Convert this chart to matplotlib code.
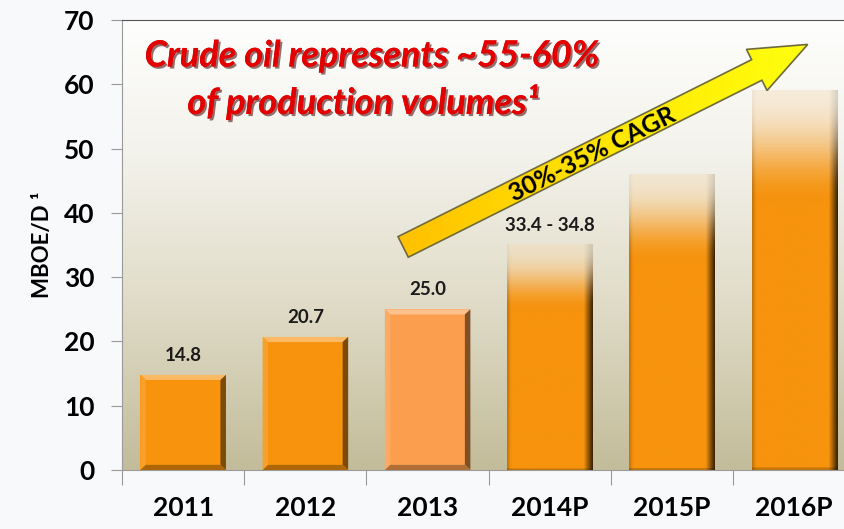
import matplotlib.pyplot as plt
import matplotlib.patheffects as pe
import numpy as np
from matplotlib.colors import LinearSegmentedColormap, to_rgb
from matplotlib.patches import Polygon

years = ["2011", "2012", "2013", "2014P", "2015P", "2016P"]
volumes = [14.8, 20.7, 25.0, 35.0, 46.0, 59.0]
projected = [False, False, False, True, True, True]
value_labels = ["14.8", "20.7", "25.0", "33.4 - 34.8", "", ""]
bar_colors = ["#f7930d", "#f7930d", "#fb9f4e", "#f7930d", "#f7930d", "#f7930d"]
y_ticks = [0, 10, 20, 30, 40, 50, 60, 70]
cagr_label = "30%-35% CAGR"
cagr_from = (1.8, 34.7)   # arrow tail (category index, MBOE/D)
cagr_to = (5.11, 66.2)    # arrow tip
headline = ["Crude oil represents ~55-60%", "of production volumes¹"]

plt.rcParams["font.family"] = ["Lato", "DejaVu Sans"]
plt.rcParams["font.weight"] = "bold"
plt.rcParams["axes.labelweight"] = "bold"

fig = plt.figure(figsize=(8.44, 5.29), dpi=100, facecolor="#f8f9fb")
ax = fig.add_axes([0.1446, 0.1115, 0.8689, 0.8507])
x = np.arange(len(years))
xlim = (-0.5, len(years) - 0.5)
ylim = (0, 70)
ax.set_xlim(*xlim)
ax.set_ylim(*ylim)


def shade(c, f):
    # f > 0 mixes with white, f < 0 with black
    c = np.array(to_rgb(c))
    return tuple(c + (1 - c) * f) if f > 0 else tuple(c * (1 + f))


# plot area background: khaki at the bottom fading to white at the top
bg = LinearSegmentedColormap.from_list(
    "bg", [(0, "#c3bc9a"), (0.4, "#e2decb"), (0.7, "#f3f2eb"), (1, "#fefefd")])
ax.imshow(np.linspace(0, 1, 256)[:, None], cmap=bg, origin="lower",
          extent=[0, 1, 0, 1], transform=ax.transAxes, aspect="auto", zorder=0)

bars = ax.bar(x, volumes, width=0.7, color=bar_colors, zorder=2)
bw, bh = 0.045, 0.8
for bar, proj, col in zip(bars, projected, bar_colors):
    x0, w, h = bar.get_x(), bar.get_width(), bar.get_height()
    if proj:
        # projected bars fade out towards the top
        bar.set_facecolor("none")
        ny, nx = 300, 60
        t = np.linspace(0, 1, ny)
        fade_start = 0.70
        k = np.clip((t - fade_start) / (1 - fade_start), 0, 1)
        k = k * k * (3 - 2 * k)
        base = np.array(to_rgb(col))
        pale = np.array(to_rgb("#f5dab2"))
        rgb = base[None, :] * (1 - k[:, None]) + pale[None, :] * k[:, None]
        img = np.zeros((ny, nx, 4))
        img[..., :3] = rgb[:, None, :]
        img[..., 3] = (1 - 0.6 * k ** 1.5)[:, None]
        s = np.linspace(0, 1, nx)
        dark = np.clip((s - 0.9) / 0.1, 0, 1) * 0.75 + np.clip((0.04 - s) / 0.04, 0, 1) * 0.2
        img[..., :3] *= (1 - dark * (1 - 0.6 * k)[:, None])[:, :, None]
        img[:2, :, :3] *= 0.8
        ax.imshow(img, origin="lower", extent=[x0, x0 + w, 0, h],
                  aspect="auto", zorder=2, interpolation="bilinear")
        continue
    # bevelled look for actual bars
    faces = [
        ([(x0, h), (x0 + w, h), (x0 + w - bw, h - bh), (x0 + bw, h - bh)], shade(col, 0.35)),
        ([(x0, 0), (x0, h), (x0 + bw, h - bh), (x0 + bw, bh)], shade(col, 0.12)),
        ([(x0 + w, 0), (x0 + w, h), (x0 + w - bw, h - bh), (x0 + w - bw, bh)], shade(col, -0.5)),
        ([(x0, 0), (x0 + w, 0), (x0 + w - bw, bh), (x0 + bw, bh)], shade(col, -0.3)),
    ]
    for pts, fc in faces:
        ax.add_patch(Polygon(pts, closed=True, facecolor=fc, edgecolor="none", zorder=3))

for xi, v, lab in zip(x, volumes, value_labels):
    if lab:
        ax.annotate(lab, (xi, v), xytext=(0, 8), textcoords="offset points",
                    ha="center", va="bottom", fontsize=13.5, color="#1a1a1a")

# growth arrow
p0 = ax.transData.transform(cagr_from)
p1 = ax.transData.transform(cagr_to)
d = p1 - p0
u = d / np.hypot(*d)
n = np.array([-u[1], u[0]])
shaft, head_w, head_l = 11.5, 23.0, 57.0
b = p1 - u * head_l
outline = np.array([p0 + n * shaft, b + n * shaft, b + n * head_w, p1,
                    b - n * head_w, b - n * shaft, p0 - n * shaft])
outline = ax.transData.inverted().transform(outline)
arrow = Polygon(outline, closed=True, facecolor="none", edgecolor="#6e6a3c",
                lw=1.2, zorder=5)
ax.add_patch(arrow)
yellow = LinearSegmentedColormap.from_list("yl", ["#ffc000", "#ffe600", "#ffff10"])
fill = ax.imshow(np.linspace(0, 1, 256)[None, :], cmap=yellow, origin="lower",
                 extent=[outline[:, 0].min(), outline[:, 0].max(),
                         outline[:, 1].min(), outline[:, 1].max()],
                 aspect="auto", zorder=4)
fill.set_clip_path(arrow)
angle = np.degrees(np.arctan2(d[1], d[0]))
mid = ax.transData.inverted().transform(p0 + u * 0.465 * np.hypot(*d) - n * 2)
ax.text(mid[0], mid[1], cagr_label, rotation=angle, rotation_mode="anchor",
        ha="center", va="center", fontsize=18, color="black", zorder=6)

ax.set_xlim(*xlim)
ax.set_ylim(*ylim)

# axes styling
for side in ["top", "left", "bottom"]:
    ax.spines[side].set_color("#9a9a9a")
ax.spines["top"].set_color("#555555")
ax.spines["right"].set_visible(False)
ax.set_yticks(y_ticks)
ax.tick_params(axis="y", length=8, color="#9a9a9a", pad=12, labelsize=19)
ax.set_xticks(np.arange(len(years) + 1) - 0.5)
ax.set_xticklabels([])
ax.tick_params(axis="x", which="major", length=11, color="#9a9a9a")
ax.set_xticks(x, minor=True)
ax.set_xticklabels(years, minor=True)
ax.tick_params(axis="x", which="minor", length=0, pad=19, labelsize=19)
ax.set_ylabel("MBOE/D ¹", fontsize=16, labelpad=8)

for i, line in enumerate(headline):
    fig.text(np.array([372, 363])[i] / 844, 1 - np.array([56, 102])[i] / 529, line,
             ha="center", va="center", fontsize=26, style="italic", color="#e30000",
             path_effects=[pe.withSimplePatchShadow(offset=(1.5, -1.5),
                                                    shadow_rgbFace="#3a0000", alpha=0.55),
                           pe.Normal()])

fig.savefig("out.png", dpi=100, facecolor=fig.get_facecolor())
